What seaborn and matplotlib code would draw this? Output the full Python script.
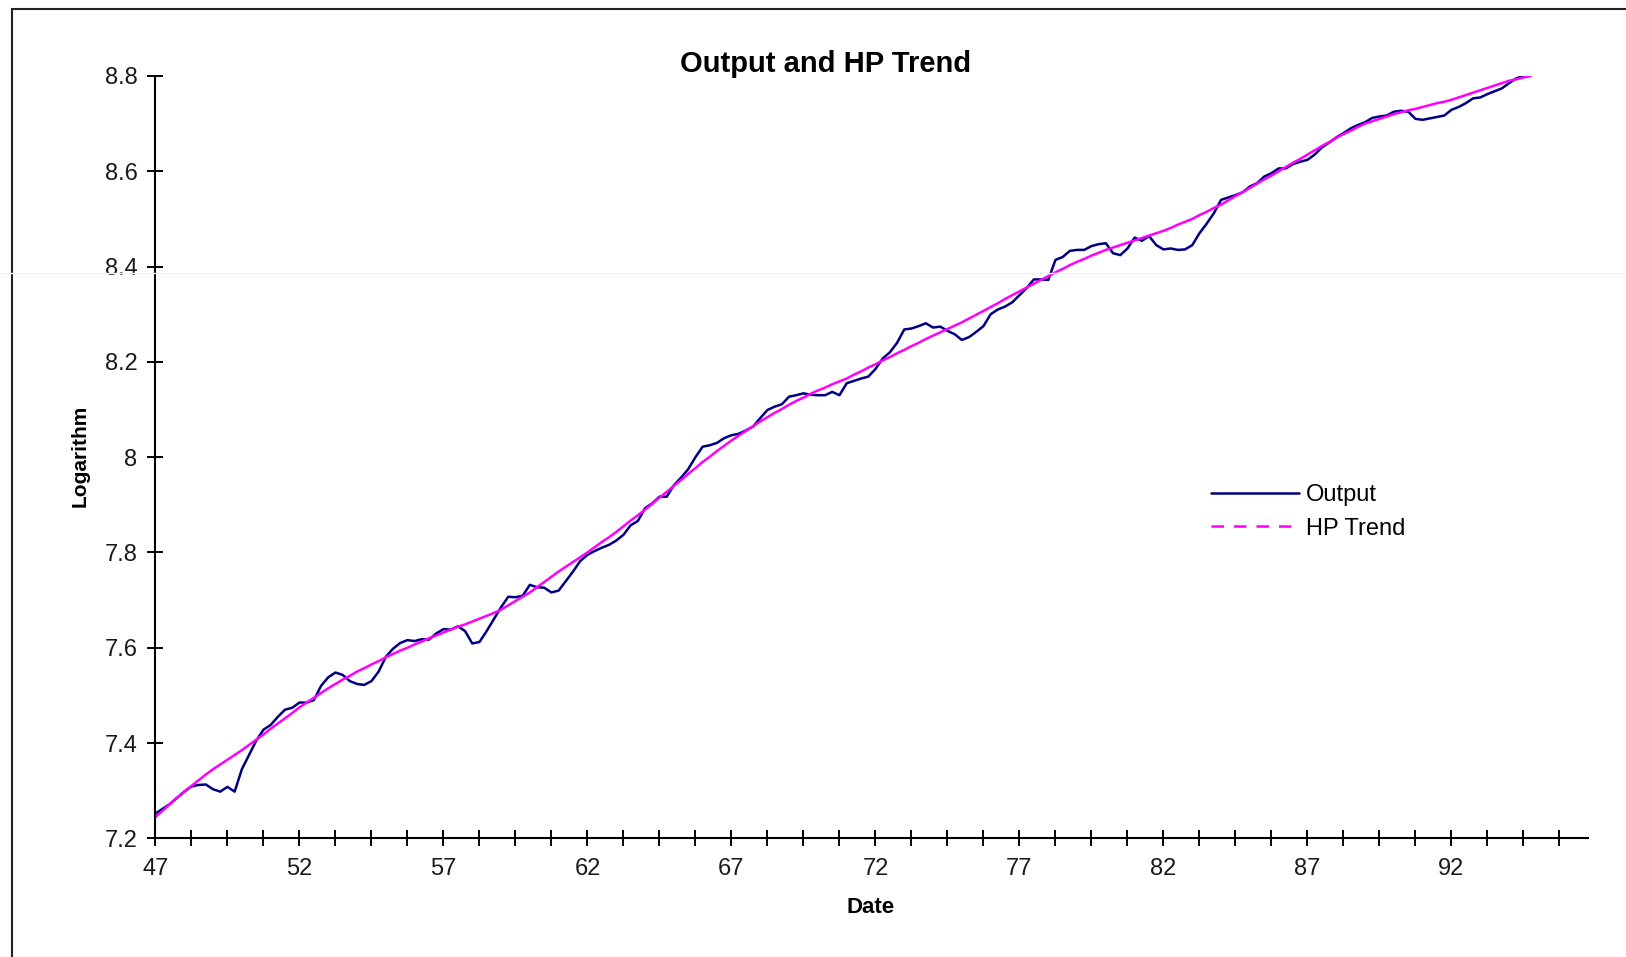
import numpy as np
import pandas as pd
import matplotlib.pyplot as plt
import seaborn as sns
from matplotlib.lines import Line2D
from matplotlib.patches import Rectangle

# Quarterly data, 1947Q1 - 1994Q4 (log of real output and its HP trend)
years = list(range(47, 95))

output = [
    7.252, 7.262, 7.272, 7.285,  # 47
    7.298, 7.309, 7.312, 7.313,  # 48
    7.303, 7.298, 7.308, 7.298,  # 49
    7.345, 7.375, 7.405, 7.428,  # 50
    7.438, 7.455, 7.470, 7.474,  # 51
    7.485, 7.485, 7.490, 7.520,  # 52
    7.538, 7.548, 7.543, 7.530,  # 53
    7.524, 7.522, 7.530, 7.550,  # 54
    7.581, 7.598, 7.610, 7.616,  # 55
    7.614, 7.618, 7.617, 7.630,  # 56
    7.639, 7.638, 7.645, 7.635,  # 57
    7.609, 7.612, 7.635, 7.660,  # 58
    7.685, 7.707, 7.706, 7.709,  # 59
    7.732, 7.727, 7.726, 7.716,  # 60
    7.720, 7.740, 7.760, 7.782,  # 61
    7.795, 7.803, 7.810, 7.816,  # 62
    7.825, 7.837, 7.857, 7.866,  # 63
    7.893, 7.903, 7.917, 7.917,  # 64
    7.941, 7.957, 7.975, 8.000,  # 65
    8.022, 8.025, 8.030, 8.040,  # 66
    8.046, 8.049, 8.056, 8.064,  # 67
    8.082, 8.099, 8.106, 8.111,  # 68
    8.127, 8.130, 8.134, 8.131,  # 69
    8.130, 8.130, 8.137, 8.130,  # 70
    8.155, 8.160, 8.165, 8.169,  # 71
    8.185, 8.207, 8.220, 8.240,  # 72
    8.268, 8.270, 8.275, 8.281,  # 73
    8.272, 8.274, 8.265, 8.258,  # 74
    8.246, 8.252, 8.263, 8.275,  # 75
    8.300, 8.310, 8.316, 8.325,  # 76
    8.340, 8.355, 8.373, 8.373,  # 77
    8.372, 8.414, 8.420, 8.433,  # 78
    8.435, 8.435, 8.443, 8.447,  # 79
    8.449, 8.428, 8.424, 8.438,  # 80
    8.461, 8.454, 8.464, 8.445,  # 81
    8.436, 8.438, 8.435, 8.436,  # 82
    8.445, 8.470, 8.490, 8.512,  # 83
    8.540, 8.545, 8.550, 8.556,  # 84
    8.568, 8.575, 8.589, 8.596,  # 85
    8.606, 8.606, 8.615, 8.620,  # 86
    8.624, 8.635, 8.650, 8.660,  # 87
    8.671, 8.680, 8.690, 8.697,  # 88
    8.703, 8.712, 8.715, 8.717,  # 89
    8.725, 8.727, 8.725, 8.710,  # 90
    8.708, 8.711, 8.714, 8.717,  # 91
    8.729, 8.735, 8.743, 8.753,  # 92
    8.755, 8.762, 8.768, 8.774,  # 93
    8.785, 8.795, 8.800, 8.801,  # 94
]

hp_trend = [
    7.245, 7.258, 7.272, 7.285,  # 47
    7.298, 7.310, 7.322, 7.334,  # 48
    7.345, 7.355, 7.365, 7.375,  # 49
    7.385, 7.396, 7.407, 7.418,  # 50
    7.430, 7.441, 7.452, 7.463,  # 51
    7.475, 7.485, 7.495, 7.505,  # 52
    7.515, 7.524, 7.533, 7.541,  # 53
    7.550, 7.557, 7.565, 7.572,  # 54
    7.580, 7.587, 7.594, 7.600,  # 55
    7.607, 7.613, 7.620, 7.626,  # 56
    7.632, 7.638, 7.644, 7.649,  # 57
    7.655, 7.661, 7.667, 7.673,  # 58
    7.680, 7.689, 7.698, 7.707,  # 59
    7.716, 7.727, 7.738, 7.749,  # 60
    7.760, 7.770, 7.780, 7.790,  # 61
    7.800, 7.811, 7.822, 7.832,  # 62
    7.843, 7.855, 7.867, 7.878,  # 63
    7.890, 7.902, 7.915, 7.927,  # 64
    7.940, 7.952, 7.965, 7.977,  # 65
    7.990, 8.001, 8.013, 8.024,  # 66
    8.035, 8.045, 8.055, 8.065,  # 67
    8.075, 8.084, 8.093, 8.101,  # 68
    8.110, 8.118, 8.125, 8.133,  # 69
    8.140, 8.146, 8.153, 8.159,  # 70
    8.165, 8.173, 8.180, 8.188,  # 71
    8.195, 8.203, 8.210, 8.218,  # 72
    8.225, 8.233, 8.240, 8.248,  # 73
    8.255, 8.262, 8.269, 8.276,  # 74
    8.283, 8.291, 8.299, 8.307,  # 75
    8.315, 8.323, 8.332, 8.340,  # 76
    8.348, 8.356, 8.364, 8.372,  # 77
    8.380, 8.388, 8.395, 8.403,  # 78
    8.410, 8.416, 8.423, 8.429,  # 79
    8.435, 8.440, 8.445, 8.450,  # 80
    8.455, 8.460, 8.465, 8.470,  # 81
    8.475, 8.481, 8.488, 8.494,  # 82
    8.500, 8.508, 8.515, 8.523,  # 83
    8.530, 8.539, 8.548, 8.556,  # 84
    8.565, 8.574, 8.583, 8.591,  # 85
    8.600, 8.609, 8.618, 8.626,  # 86
    8.635, 8.644, 8.653, 8.661,  # 87
    8.670, 8.678, 8.685, 8.693,  # 88
    8.700, 8.705, 8.710, 8.715,  # 89
    8.720, 8.724, 8.728, 8.731,  # 90
    8.735, 8.739, 8.743, 8.746,  # 91
    8.750, 8.755, 8.760, 8.765,  # 92
    8.770, 8.775, 8.780, 8.785,  # 93
    8.790, 8.793, 8.797, 8.800,  # 94
]

y_ticks = [7.2, 7.4, 7.6, 7.8, 8.0, 8.2, 8.4, 8.6, 8.8]

dates = [y + q / 4 for y in years for q in range(4)]
df = pd.DataFrame({
    "Date": dates * 2,
    "Logarithm": output + hp_trend,
    "Series": ["Output"] * len(dates) + ["HP Trend"] * len(dates),
})

sns.set_style("white")
plt.rcParams["font.family"] = ["Liberation Sans", "DejaVu Sans"]
plt.rcParams["text.color"] = "black"

fig = plt.figure(figsize=(16.26, 9.57), dpi=100)
ax = fig.add_axes([0.0956, 0.124, 0.8812, 0.7966])

sns.lineplot(data=df, x="Date", y="Logarithm", hue="Series",
             palette={"Output": "#000080", "HP Trend": "#FF00FF"},
             estimator=None, linewidth=1.8, legend=False, ax=ax)

# axes like the Excel chart
ax.set_xlim(47, 96.75)
ax.set_ylim(7.2, 8.8)
xt = np.arange(47, 96.76, 1.25)
ax.set_xticks(xt)
ax.set_xticklabels([str(int(t)) if i % 4 == 0 else "" for i, t in enumerate(xt)])
ax.set_yticks(y_ticks)
ax.set_yticklabels(["{:g}".format(v) for v in y_ticks])
ax.tick_params(direction="inout", length=12, width=1.4, color="black",
               bottom=True, left=True, labelsize=17, labelcolor="#1a1a1a", pad=7)
ax.tick_params(axis="x", pad=8)
for s in ["top", "right"]:
    ax.spines[s].set_visible(False)
for s in ["left", "bottom"]:
    ax.spines[s].set_color("black")
    ax.spines[s].set_linewidth(1.5)
ax.set_xlabel("")
ax.set_ylabel("")

fig.text(0.5077, 0.9335, "Output and HP Trend", fontsize=21, fontweight="bold",
         ha="center", va="center")
fig.text(0.5357, 0.052, "Date", fontsize=16, fontweight="bold",
         ha="center", va="center")
fig.text(0.049, 0.5235, "Logarithm", fontsize=15, fontweight="bold",
         rotation=90, ha="center", va="center")

handles = [Line2D([], [], color="#000080", lw=1.8),
           Line2D([], [], color="#FF00FF", lw=1.8, dashes=(5, 4))]
fig.legend(handles, ["Output", "HP Trend"], loc="upper left",
           bbox_to_anchor=(0.745, 0.494), frameon=False, fontsize=17,
           handlelength=3.7, handletextpad=0.3, labelspacing=0.48,
           borderpad=0, borderaxespad=0)

# page frame and faint scan seam
fig.add_artist(Rectangle((11.5 / 1626, -0.1), 1.2, 1.1 - 9.5 / 957,
                         transform=fig.transFigure, fill=False,
                         edgecolor="#222222", lw=1.5))
fig.add_artist(Line2D([0, 1], [1 - 272.7 / 957] * 2, transform=fig.transFigure,
                      color="#eef4f4", lw=1))

fig.savefig("out.png", dpi=100)
